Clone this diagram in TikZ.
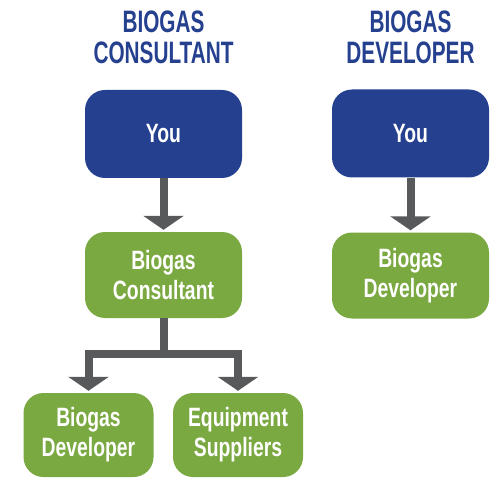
\documentclass[tikz,border=0pt]{standalone}
\usepackage{fontspec}
\setmainfont{Liberation Sans}[FakeStretch=0.73]
\newfontfamily\headfont{Liberation Sans}[FakeStretch=0.67]
\usetikzlibrary{arrows.meta}

\definecolor{bgblue}{RGB}{36,64,143}
\definecolor{bggreen}{RGB}{122,168,65}
\definecolor{bggrey}{RGB}{88,89,91}

\tikzset{
  heading/.style={text=bgblue, inner sep=0pt, align=center,
    font=\headfont\bfseries\fontsize{31}{31}\selectfont},
  box/.style={rounded corners=20pt, text=white, inner sep=2pt, align=center,
    font=\bfseries\fontsize{26.5}{30}\selectfont},
  youbox/.style={box, fill=bgblue, minimum width=157pt, minimum height=88pt},
  midbox/.style={box, fill=bggreen, minimum width=157pt, minimum height=86pt},
  lowbox/.style={box, fill=bggreen, minimum width=130pt, minimum height=84pt},
  bar/.style={draw=bggrey, line width=8pt},
  flow/.style={bar, shorten >=2pt, -{Triangle[width=40pt,length=14pt]}}
}

\begin{document}
\begin{tikzpicture}[x=1pt,y=-1pt]
\useasboundingbox (0,0) rectangle (497,478);

\def\xl{163.5};
\def\xr{410.5};

% consultant column
\node[heading] (hcons) at (\xl, 37) {BIOGAS\\CONSULTANT};
\node[youbox] (youl) at (\xl, 134) {You};
\node[midbox] (cons) at (\xl, 275) {Biogas\\Consultant};
\node[lowbox] (bdev) at (88.5, 435) {Biogas\\Developer};
\node[lowbox] (equip) at (238, 435) {Equipment\\Suppliers};

\coordinate (split) at (\xl, 354);

\draw[flow] (youl) -- (cons);
\draw[bar] (cons.south) -- (split);
\draw[flow] (split) -| (bdev.north);
\draw[flow] (split) -| (equip.north);

% developer column
\node[heading] (hdev) at (\xr, 37) {BIOGAS\\DEVELOPER};
\node[youbox] (your) at (\xr, 133.5) {You};
\node[midbox] (dev) at (\xr, 275.5) {Biogas\\Developer};

\draw[flow] (your) -- (dev);

\end{tikzpicture}
\end{document}
